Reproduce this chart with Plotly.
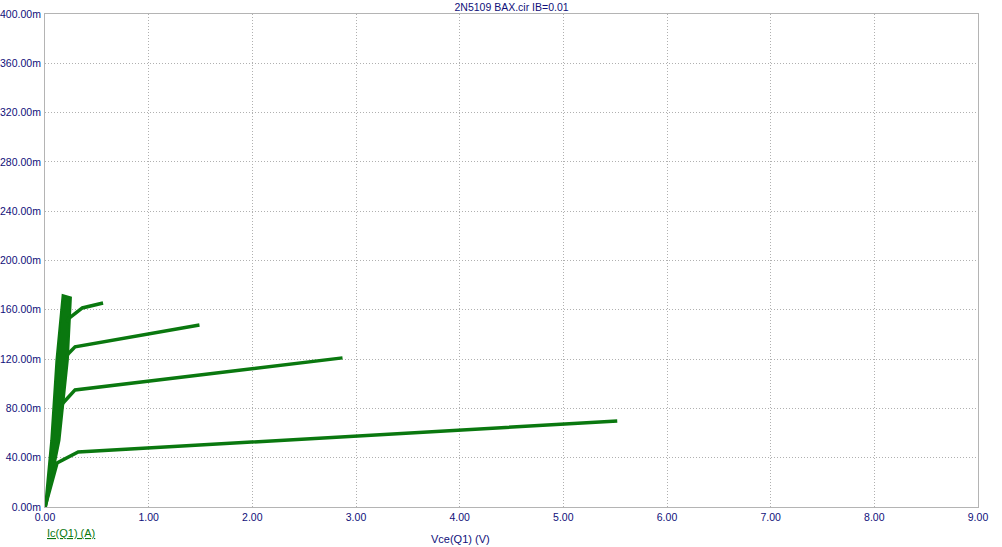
import plotly.graph_objects as go

# Ic(Q1) vs Vce(Q1) (V, mA)
band_vce = [0.0, 0.06, 0.11, 0.17, 0.25, 0.22, 0.14, 0.01, 0.0]
band_ic = [0.0, 54.0, 119.0, 172.0, 170.0, 119.0, 54.0, 0.0, 0.0]

curve1_vce = [0.0, 0.116, 0.32, 5.52]
curve1_ic = [0.0, 35.7, 44.6, 69.8]

curve2_vce = [0.15, 0.17, 0.29, 2.87]
curve2_ic = [78.0, 84.0, 95.0, 121.0]

curve3_vce = [0.20, 0.22, 0.29, 1.49]
curve3_ic = [118.0, 124.0, 130.0, 147.7]

curve4_vce = [0.21, 0.23, 0.36, 0.56]
curve4_ic = [150.0, 153.0, 161.5, 165.5]

x_ticks = [0, 1, 2, 3, 4, 5, 6, 7, 8, 9]
x_tick_labels = ["0.00", "1.00", "2.00", "3.00", "4.00",
                 "5.00", "6.00", "7.00", "8.00", "9.00"]
y_ticks = [0, 40, 80, 120, 160, 200, 240, 280, 320, 360, 400]
y_tick_labels = ["0.00m", "40.00m", "80.00m", "120.00m", "160.00m",
                 "200.00m", "240.00m", "280.00m", "320.00m",
                 "360.00m", "400.00m"]

green = "#0a780f"
navy = "#10107a"
font_family = "Liberation Sans, Arial, sans-serif"

fig = go.Figure()

fig.add_trace(
    go.Scatter(
        x=band_vce,
        y=band_ic,
        mode="lines",
        fill="toself",
        fillcolor=green,
        line={"color": green, "width": 2},
        showlegend=False,
    )
)

for vce, ic in [
    (curve1_vce, curve1_ic),
    (curve2_vce, curve2_ic),
    (curve3_vce, curve3_ic),
    (curve4_vce, curve4_ic),
]:
    fig.add_trace(
        go.Scatter(
            x=vce,
            y=ic,
            mode="lines",
            line={"color": green, "width": 3.5},
            showlegend=False,
        )
    )

axis_style = {
    "showline": True,
    "linecolor": "#b4b4b4",
    "linewidth": 1,
    "mirror": True,
    "showgrid": True,
    "gridcolor": "#b0b0b0",
    "griddash": "1px,2px",
    "gridwidth": 1,
    "zeroline": False,
    "ticks": "",
    "automargin": False,
    "tickfont": {"family": font_family, "size": 10.5, "color": navy},
}

fig.update_layout(
    width=1002,
    height=547,
    margin={"l": 45, "r": 24, "t": 14, "b": 40},
    paper_bgcolor="white",
    plot_bgcolor="white",
    title={
        "text": "2N5109 BAX.cir IB=0.01",
        "x": 0.5105,
        "xanchor": "center",
        "y": 0.987,
        "yanchor": "middle",
        "font": {"family": font_family, "size": 10.5, "color": navy},
    },
    xaxis={
        **axis_style,
        "range": [0, 9],
        "tickvals": x_ticks,
        "ticktext": x_tick_labels,
    },
    yaxis={
        **axis_style,
        "range": [0, 400],
        "tickvals": y_ticks,
        "ticktext": y_tick_labels,
        "ticklabelstandoff": 1,
    },
    annotations=[
        {
            "text": "<u>Ic(Q1) (A)</u>",
            "xref": "paper",
            "yref": "paper",
            "x": 0.0,
            "y": -0.036,
            "xanchor": "left",
            "yanchor": "top",
            "showarrow": False,
            "font": {"family": font_family, "size": 11, "color": green},
        },
        {
            "text": "Vce(Q1) (V)",
            "xref": "paper",
            "yref": "paper",
            "x": 0.445,
            "y": -0.081,
            "xanchor": "center",
            "yanchor": "bottom",
            "showarrow": False,
            "font": {"family": font_family, "size": 11, "color": navy},
        },
    ],
)

# the page body has a default 8px margin; drop it so the figure fills the window
fig.write_html(
    "out.html",
    config={"displayModeBar": False},
    post_script="document.body.style.margin = '0';",
)
